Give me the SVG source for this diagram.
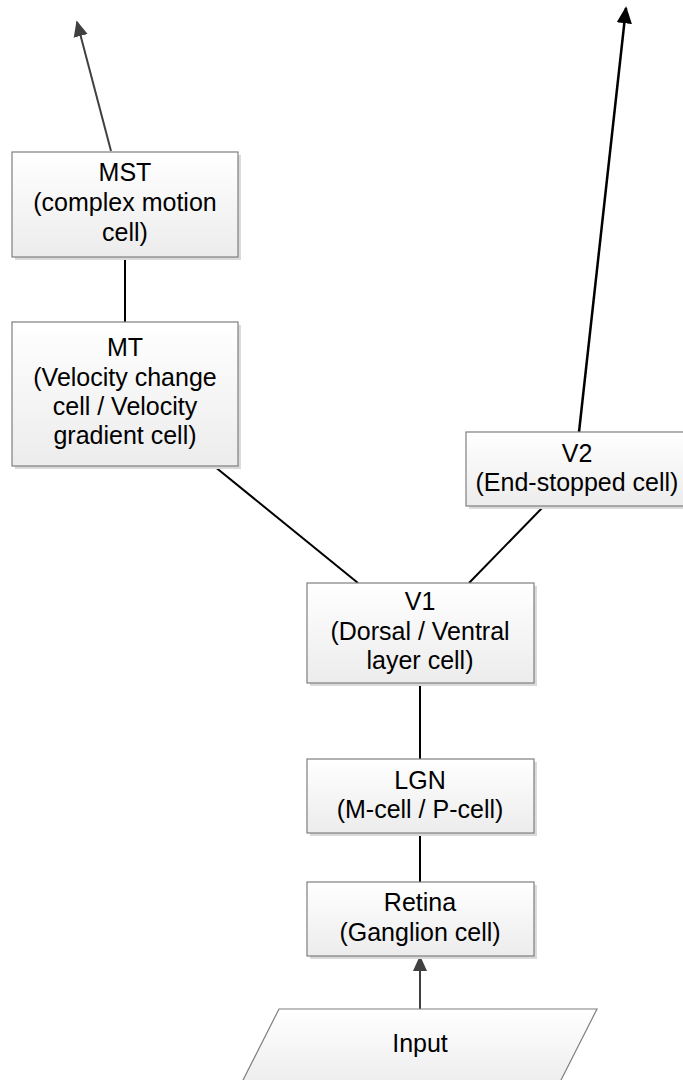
<svg xmlns="http://www.w3.org/2000/svg" width="683" height="1080" viewBox="0 0 683 1080">
  <defs>
    <linearGradient id="boxFill" x1="0" y1="0" x2="0" y2="1">
      <stop offset="0" stop-color="#ffffff"/>
      <stop offset="1" stop-color="#ececec"/>
    </linearGradient>
    <marker id="arrowGray" viewBox="0 0 10 10" refX="9" refY="5" markerWidth="16" markerHeight="16" markerUnits="userSpaceOnUse" orient="auto">
      <path d="M0,0.5 L10,5 L0,9.5 Z" fill="#404040"/>
    </marker>
    <marker id="arrowBlack" viewBox="0 0 10 10" refX="9" refY="5" markerWidth="17" markerHeight="17" markerUnits="userSpaceOnUse" orient="auto">
      <path d="M0,0.5 L10,5 L0,9.5 Z" fill="#000000"/>
    </marker>
  </defs>
  <style>
    .shadow { fill: #dadada; }
    .box { fill: url(#boxFill); stroke: #7f7f7f; stroke-width: 1.2; }
    .label { font-family: "Liberation Sans", Arial, sans-serif; font-size: 25px; fill: #000000; text-anchor: middle; }
    .link { stroke: #000000; stroke-width: 2; fill: none; }
    .arrow-gray { stroke: #404040; stroke-width: 2; fill: none; marker-end: url(#arrowGray); }
    .arrow-black { stroke: #000000; stroke-width: 2.5; fill: none; marker-end: url(#arrowBlack); }
  </style>
  <rect width="683" height="1080" fill="#ffffff"/>

  <!-- connectors -->
  <g id="connectors">
    <line class="arrow-gray" x1="111" y1="151" x2="77" y2="22"/>
    <line class="link" x1="125" y1="257" x2="125" y2="322"/>
    <line class="link" x1="214" y1="466" x2="358" y2="583"/>
    <line class="link" x1="544" y1="506" x2="469" y2="583"/>
    <line class="arrow-black" x1="579" y1="432" x2="626" y2="8"/>
    <line class="link" x1="420" y1="683" x2="420" y2="759"/>
    <line class="link" x1="420" y1="833" x2="420" y2="882"/>
    <line class="arrow-gray" x1="420" y1="1009" x2="420" y2="957"/>
  </g>

  <!-- MST -->
  <g id="node-mst">
    <rect class="shadow" x="15" y="155" width="226" height="105"/>
    <rect class="box" x="12" y="152" width="226" height="105"/>
    <text class="label" x="125" y="181">MST</text>
    <text class="label" x="125" y="211">(complex motion</text>
    <text class="label" x="125" y="241">cell)</text>
  </g>

  <!-- MT -->
  <g id="node-mt">
    <rect class="shadow" x="15" y="325" width="226" height="144"/>
    <rect class="box" x="12" y="322" width="226" height="144"/>
    <text class="label" x="125" y="356">MT</text>
    <text class="label" x="125" y="386">(Velocity change</text>
    <text class="label" x="125" y="415">cell / Velocity</text>
    <text class="label" x="125" y="444">gradient cell)</text>
  </g>

  <!-- V2 -->
  <g id="node-v2">
    <rect class="shadow" x="469" y="435" width="222" height="74"/>
    <rect class="box" x="466" y="432" width="222" height="74"/>
    <text class="label" x="577" y="462">V2</text>
    <text class="label" x="577" y="491">(End-stopped cell)</text>
  </g>

  <!-- V1 -->
  <g id="node-v1">
    <rect class="shadow" x="310" y="586" width="227" height="100"/>
    <rect class="box" x="307" y="583" width="227" height="100"/>
    <text class="label" x="420" y="610">V1</text>
    <text class="label" x="420" y="640">(Dorsal / Ventral</text>
    <text class="label" x="420" y="669">layer cell)</text>
  </g>

  <!-- LGN -->
  <g id="node-lgn">
    <rect class="shadow" x="310" y="762" width="227" height="74"/>
    <rect class="box" x="307" y="759" width="227" height="74"/>
    <text class="label" x="420" y="789">LGN</text>
    <text class="label" x="420" y="818">(M-cell / P-cell)</text>
  </g>

  <!-- Retina -->
  <g id="node-retina">
    <rect class="shadow" x="310" y="885" width="227" height="74"/>
    <rect class="box" x="307" y="882" width="227" height="74"/>
    <text class="label" x="420" y="911">Retina</text>
    <text class="label" x="420" y="941">(Ganglion cell)</text>
  </g>

  <!-- Input (parallelogram running past the bottom edge) -->
  <g id="node-input">
    <polygon class="box" points="279,1009 597,1009 557,1088 239,1088"/>
    <text class="label" x="420" y="1052">Input</text>
  </g>
</svg>
